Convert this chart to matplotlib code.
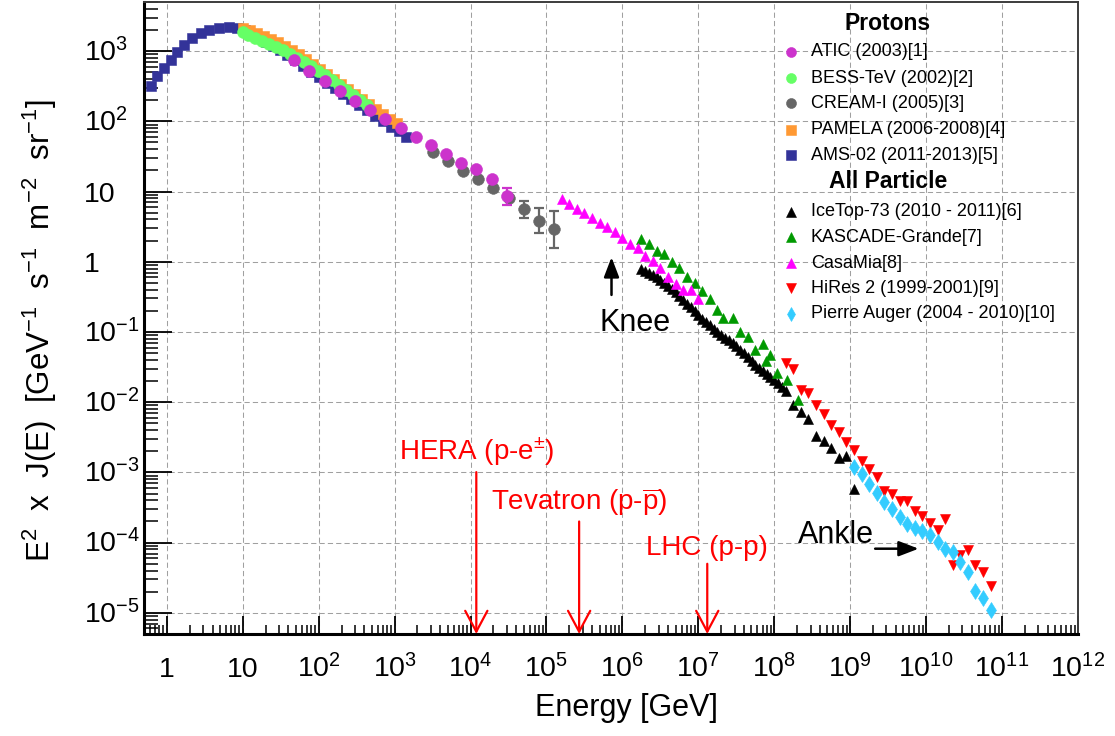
import numpy as np
import matplotlib
matplotlib.use("Agg")
import matplotlib.pyplot as plt
from matplotlib import transforms
from matplotlib.patches import ArrowStyle
from matplotlib.ticker import FixedLocator, LogLocator, NullFormatter

plt.rcParams['font.family'] = ['Liberation Sans', 'DejaVu Sans']
plt.rcParams['mathtext.fontset'] = 'custom'
plt.rcParams['mathtext.rm'] = 'Liberation Sans'
plt.rcParams['mathtext.it'] = 'Liberation Sans:italic'
plt.rcParams['mathtext.bf'] = 'Liberation Sans:bold'

# ---------------- proton spectra: E [GeV], E^2 J(E) ----------------
ams_E = [0.62, 0.74, 0.92, 1.14, 1.36, 1.69, 2.15, 2.82, 3.60, 4.89, 6.62, 8.44,
         10.8, 13.7, 17.0, 20.4, 25.2, 31.1, 38.5, 49.1, 62.6, 79.8, 102, 130,
         166, 211, 269, 343, 438, 558, 712, 907, 1157, 1432]
ams_F = [317, 440, 571, 743, 964, 1213, 1524, 1799, 1983, 2152, 2188, 2118,
         1983, 1739, 1524, 1339, 1175, 1030, 880, 743, 611, 502, 427, 350,
         298, 244, 207, 170, 144, 119, 101, 83, 72, 60]

pamela_E = [10.0, 12.4, 15.3, 18.9, 23.4, 28.9, 35.8, 44.2, 54.7, 67.6, 83.6, 103,
            128, 158, 195, 242, 299, 369, 457, 565, 698, 863, 1067]
pamela_F = [2153, 2015, 1827, 1656, 1501, 1361, 1194, 1047, 918, 780, 662, 562,
            477, 405, 344, 292, 248, 207, 176, 149, 127, 108, 94]

bess_E = [10.0, 11.8, 14.6, 18.0, 22.3, 27.6, 34.1, 42.2, 52.2, 64.6, 79.8, 98.8,
          122, 151, 187, 231, 286, 354, 438]
bess_F = [1857, 1683, 1525, 1383, 1254, 1136, 1030, 904, 794, 697, 611, 519,
          455, 386, 328, 278, 236, 200, 170]

cream_E = [3162, 5012, 7943, 12589, 19953, 31623, 50119, 79433, 125893]
cream_F = [36.5, 26.9, 19.6, 15.1, 11.2, 8.1, 5.58, 3.85, 2.90]
cream_lo = [36.5, 26.9, 19.6, 15.1, 11.2, 8.1, 4.18, 2.56, 1.58]
cream_hi = [36.5, 26.9, 19.6, 15.1, 11.2, 8.1, 7.45, 5.79, 5.32]

atic_E = [47.6, 75.5, 119.7, 189.7, 300.6, 476.4, 755, 1197, 1897, 3006, 4764,
          7551, 11967, 18967, 30061]
atic_F = [743, 518, 373, 269, 194, 144, 107, 80, 59.6, 45.8, 34.1, 25.4, 20.9, 15.1, 8.6]
atic_lo = [743, 518, 373, 269, 194, 144, 107, 80, 59.6, 45.8, 34.1, 25.4, 20.9, 15.1, 6.5]
atic_hi = [743, 518, 373, 269, 194, 144, 107, 80, 59.6, 45.8, 34.1, 25.4, 20.9, 15.1, 11.3]

# ---------------- all-particle spectra: log10(E/GeV), E^2 J(E) ----------------
icetop_logE = [6.25, 6.30, 6.35, 6.40, 6.45, 6.50, 6.55, 6.60, 6.65, 6.70, 6.75, 6.80,
               6.85, 6.90, 6.95, 7.00, 7.05, 7.10, 7.15, 7.20, 7.25, 7.30, 7.35, 7.40,
               7.45, 7.50, 7.55, 7.60, 7.65, 7.70, 7.75, 7.80, 7.85, 7.90, 7.95, 8.00,
               8.05, 8.10, 8.15, 8.25, 8.35, 8.45, 8.55, 8.65, 8.75, 8.85, 8.95, 9.05]
icetop_F = [0.795, 0.740, 0.689, 0.645, 0.602, 0.549, 0.503, 0.456, 0.413, 0.368,
            0.325, 0.287, 0.254, 0.224, 0.198, 0.175, 0.154, 0.138, 0.125, 0.112,
            0.101, 0.0916, 0.0826, 0.0757, 0.0690, 0.0622, 0.0558, 0.0499, 0.0438,
            0.0383, 0.0341, 0.0308, 0.0277, 0.0251, 0.0228, 0.0206, 0.0186, 0.0166,
            0.0143, 0.00919, 0.00714, 0.00575, 0.00333, 0.00282, 0.00222, 0.00160,
            0.00173, 0.000581]

kascade_logE = [6.25, 6.35, 6.45, 6.55, 6.65, 6.75, 6.85, 6.95, 7.05, 7.15, 7.25,
                7.33, 7.45, 7.55, 7.65, 7.75, 7.85, 7.89, 7.95, 8.04, 8.17, 8.31]
kascade_F = [2.08, 1.79, 1.44, 1.27, 0.993, 0.816, 0.602, 0.505, 0.385, 0.296, 0.203,
             0.159, 0.157, 0.100, 0.0837, 0.0556, 0.0678, 0.0392, 0.0472, 0.0258,
             0.0206, 0.0109]

casamia_logE = [5.2, 5.3, 5.4, 5.5, 5.6, 5.7, 5.8, 5.9, 6.0, 6.1, 6.2, 6.3, 6.4,
                6.5, 6.6, 6.7, 6.8, 6.9, 7.0]
casamia_F = [7.74, 6.64, 5.69, 4.89, 4.20, 3.60, 3.12, 2.68, 2.21, 1.79, 1.55, 1.20,
             1.02, 0.807, 0.607, 0.483, 0.397, 0.391, 0.293]

hires_logE = [8.15, 8.25, 8.35, 8.45, 8.55, 8.65, 8.75, 8.85, 8.95, 9.05, 9.15, 9.25,
              9.35, 9.45, 9.55, 9.65, 9.75, 9.85, 9.95, 10.05, 10.15, 10.25, 10.35,
              10.45, 10.55, 10.65, 10.75, 10.85]
hires_F = [0.0357, 0.0294, 0.0150, 0.0136, 0.00927, 0.00679, 0.00477, 0.00376,
           0.00271, 0.00206, 0.00144, 0.00112, 0.000861, 0.000537, 0.000498,
           0.000387, 0.000387, 0.000279, 0.000237, 0.000191, 0.000153, 0.000217,
           4.86e-5, 6.75e-5, 7.94e-5, 4.86e-5, 3.78e-5, 2.39e-5]

auger_logE = [9.05, 9.15, 9.25, 9.35, 9.45, 9.55, 9.65, 9.75, 9.85, 9.95, 10.05,
              10.15, 10.25, 10.35, 10.45, 10.55, 10.65, 10.75, 10.85]
auger_F = [0.00119, 0.000959, 0.000690, 0.000509, 0.000374, 0.000301, 0.000232,
           0.000186, 0.000162, 0.000145, 0.000130, 0.000101, 8.13e-5, 7.28e-5,
           5.25e-5, 3.78e-5, 2.07e-5, 1.63e-5, 1.11e-5]

# ---------------- axis ticks ----------------
x_ticks = [1, 10, 1e2, 1e3, 1e4, 1e5, 1e6, 1e7, 1e8, 1e9, 1e10, 1e11, 1e12]
x_tick_labels = ["1", "10", "$10^{2}$", "$10^{3}$", "$10^{4}$", "$10^{5}$", "$10^{6}$",
                 "$10^{7}$", "$10^{8}$", "$10^{9}$", "$10^{10}$", "$10^{11}$", "$10^{12}$"]
y_ticks = [1e-5, 1e-4, 1e-3, 1e-2, 1e-1, 1, 10, 1e2, 1e3]
y_tick_labels = ["$10^{-5}$", "$10^{-4}$", "$10^{-3}$", "$10^{-2}$", "$10^{-1}$",
                 "1", "10", "$10^{2}$", "$10^{3}$"]

# ---------------- collider equivalent energies ----------------
collider_names = ["HERA (p-e$^{\\pm}$)", "Tevatron (p-$\\overline{\\mathrm{p}}$)", "LHC (p-p)"]
collider_E = [1.19e4, 2.69e5, 1.31e7]
collider_arrow_top = [1.01e-3, 2.0e-4, 5.0e-5]
collider_text_xy = [(1157, 1.52e-3), (1.875e4, 2.88e-4), (2.02e6, 6.75e-5)]

# ---------------- colours ----------------
C_ATIC = '#cc33cc'
C_BESS = '#66ff66'
C_CREAM = '#666666'
C_PAMELA = '#ff9933'
C_AMS = '#333399'
C_ICETOP = '#000000'
C_KASCADE = '#009900'
C_CASAMIA = '#ff00ff'
C_HIRES = '#ff0000'
C_AUGER = '#33ccff'

W, H = 1115, 736
fig = plt.figure(figsize=(W / 100, H / 100), dpi=100)
ax = fig.add_axes([144 / W, 102 / H, 934 / W, 632 / H])
ax.set_xscale('log')
ax.set_yscale('log')
ax.set_xlim(0.5, 1e12)
ax.set_ylim(5e-6, 5e3)


def pts(E, F, color, marker, ms, z):
    ax.plot(E, F, linestyle='none', marker=marker, ms=ms, mfc=color, mec=color,
            mew=0.4, zorder=z)


def bars(E, F, lo, hi, color, z):
    E, F, lo, hi = map(np.asarray, (E, F, lo, hi))
    m = (hi > F) | (lo < F)
    ax.errorbar(E[m], F[m], yerr=[F[m] - lo[m], hi[m] - F[m]], fmt='none',
                ecolor=color, elinewidth=1.6, capsize=3.5, capthick=1.6, zorder=z)


pts(ams_E, ams_F, C_AMS, 's', 7.2, 3)
pts(pamela_E, pamela_F, C_PAMELA, 's', 7.8, 4)
pts(bess_E, bess_F, C_BESS, 'o', 8.6, 5)
bars(cream_E, cream_F, cream_lo, cream_hi, C_CREAM, 5.5)
pts(cream_E, cream_F, C_CREAM, 'o', 8.4, 6)
bars(atic_E, atic_F, atic_lo, atic_hi, C_ATIC, 6.5)
pts(atic_E, atic_F, C_ATIC, 'o', 8.6, 7)

pts(10 ** np.asarray(icetop_logE), icetop_F, C_ICETOP, '^', 7.2, 8)
pts(10 ** np.asarray(kascade_logE), kascade_F, C_KASCADE, '^', 7.2, 9)
pts(10 ** np.asarray(casamia_logE), casamia_F, C_CASAMIA, '^', 7.2, 10)
pts(10 ** np.asarray(hires_logE), hires_F, C_HIRES, 'v', 7.2, 11)
pts(10 ** np.asarray(auger_logE), auger_F, C_AUGER, 'd', 7.8, 12)

# ---------------- frame, grid, ticks ----------------
ax.set_axisbelow(True)
ax.grid(True, which='major', color='#a0a0a0', linestyle=(0, (5, 3)), linewidth=0.75)
ax.xaxis.set_major_locator(FixedLocator(x_ticks))
ax.yaxis.set_major_locator(FixedLocator(y_ticks))
ax.xaxis.set_minor_locator(LogLocator(base=10, subs=np.arange(2, 10), numticks=100))
ax.yaxis.set_minor_locator(LogLocator(base=10, subs=np.arange(2, 10), numticks=100))
for axis in (ax.xaxis, ax.yaxis):
    axis.set_major_formatter(NullFormatter())
    axis.set_minor_formatter(NullFormatter())
ax.tick_params(axis='x', which='major', direction='in', length=13, width=1.3,
               top=False, bottom=True, color='black')
ax.tick_params(axis='x', which='minor', direction='in', length=6.5, width=1.1,
               top=False, color='black')
ax.tick_params(axis='y', which='major', direction='in', length=20, width=1.3,
               right=False, left=True, color='black')
ax.tick_params(axis='y', which='minor', direction='in', length=10, width=1.1,
               right=False, color='black')
for s in ('left', 'bottom'):
    ax.spines[s].set_linewidth(2.2)
    ax.spines[s].set_color('black')
for s in ('top', 'right'):
    ax.spines[s].set_linewidth(1.4)
    ax.spines[s].set_color('#3c3c3c')

TICK_FS = 20.5
xlab_tr = transforms.blended_transform_factory(ax.transData, ax.transAxes)
for xv, lab in zip(x_ticks, x_tick_labels):
    ax.text(xv, -0.068, lab, transform=xlab_tr, ha='center', va='baseline',
            fontsize=TICK_FS, clip_on=False)
ylab_tr = transforms.offset_copy(
    transforms.blended_transform_factory(ax.transAxes, ax.transData),
    fig=fig, x=0, y=-7.3, units='points')
for yv, lab in zip(y_ticks, y_tick_labels):
    ax.text(-0.0642, yv, lab, transform=ylab_tr, ha='left', va='baseline',
            fontsize=TICK_FS, clip_on=False)

ax.set_xlabel('Energy [GeV]', fontsize=22)
ax.xaxis.set_label_coords(0.516, -0.093)
fig.text(40 / W, 1 - 331 / H,
         "E$^{2}$  x  J(E)  [GeV$^{-1}$  s$^{-1}$  m$^{-2}$  sr$^{-1}$]",
         rotation=90, ha='center', va='center', fontsize=22.5)

# ---------------- annotations ----------------
ax.text(5.04e5, 0.104, 'Knee', fontsize=22, ha='left', va='baseline')
ax.annotate('', xy=(7.18e5, 1.16), xytext=(7.18e5, 0.337),
            arrowprops=dict(arrowstyle=ArrowStyle('-|>', head_length=12, head_width=4.6),
                            mutation_scale=1, color='black', lw=1.8,
                            shrinkA=0, shrinkB=0))
ax.text(2.06e8, 1.0e-4, 'Ankle', fontsize=22, ha='left', va='baseline')
ax.annotate('', xy=(7.96e9, 8.2e-5), xytext=(2.13e9, 8.2e-5),
            arrowprops=dict(arrowstyle=ArrowStyle('-|>', head_length=12, head_width=4.6),
                            mutation_scale=1, color='black', lw=1.8,
                            shrinkA=0, shrinkB=0))

for name, xe, ytop, (tx, ty) in zip(collider_names, collider_E, collider_arrow_top,
                                      collider_text_xy):
    ax.annotate('', xy=(xe, 5e-6), xytext=(xe, ytop), annotation_clip=False,
                arrowprops=dict(arrowstyle=ArrowStyle('->', head_length=15, head_width=8),
                                mutation_scale=1, color='#ff0000', lw=1.6,
                                shrinkA=0, shrinkB=0), zorder=15)
    ax.text(tx, ty, name, color='#ff0000', fontsize=20, ha='left', va='baseline',
            zorder=15)

# ---------------- legend ----------------
def fx(px):
    return px / W


def fy(py):
    return 1 - py / H


fig.text(fx(888), fy(24), 'Protons', fontsize=16.5, fontweight='bold',
         ha='center', va='center')
fig.text(fx(888), fy(182), 'All Particle', fontsize=16.5, fontweight='bold',
         ha='center', va='center')

legend_rows = [
    ('ATIC (2003)[1]', C_ATIC, 'o', 7.2, 51.7),
    ('BESS-TeV (2002)[2]', C_BESS, 'o', 7.2, 78.3),
    ('CREAM-I (2005)[3]', C_CREAM, 'o', 7.2, 103.3),
    ('PAMELA (2006-2008)[4]', C_PAMELA, 's', 7.0, 129.5),
    ('AMS-02 (2011-2013)[5]', C_AMS, 's', 7.0, 155),
    ('IceTop-73 (2010 - 2011)[6]', C_ICETOP, '^', 7.2, 211.5),
    ('KASCADE-Grande[7]', C_KASCADE, '^', 7.2, 237.3),
    ('CasaMia[8]', C_CASAMIA, '^', 7.2, 263),
    ('HiRes 2 (1999-2001)[9]', C_HIRES, 'v', 7.2, 288.5),
    ('Pierre Auger (2004 - 2010)[10]', C_AUGER, 'd', 7.0, 314),
]
for label, col, mk, ms, py in legend_rows:
    fig.lines.append(plt.Line2D([fx(791)], [fy(py)], transform=fig.transFigure,
                                linestyle='none', marker=mk, ms=ms, mfc=col, mec=col,
                                mew=0.4, figure=fig))
    fig.text(fx(811), fy(py), label, fontsize=13, ha='left', va='center')

fig.savefig('out.png', dpi=100)
